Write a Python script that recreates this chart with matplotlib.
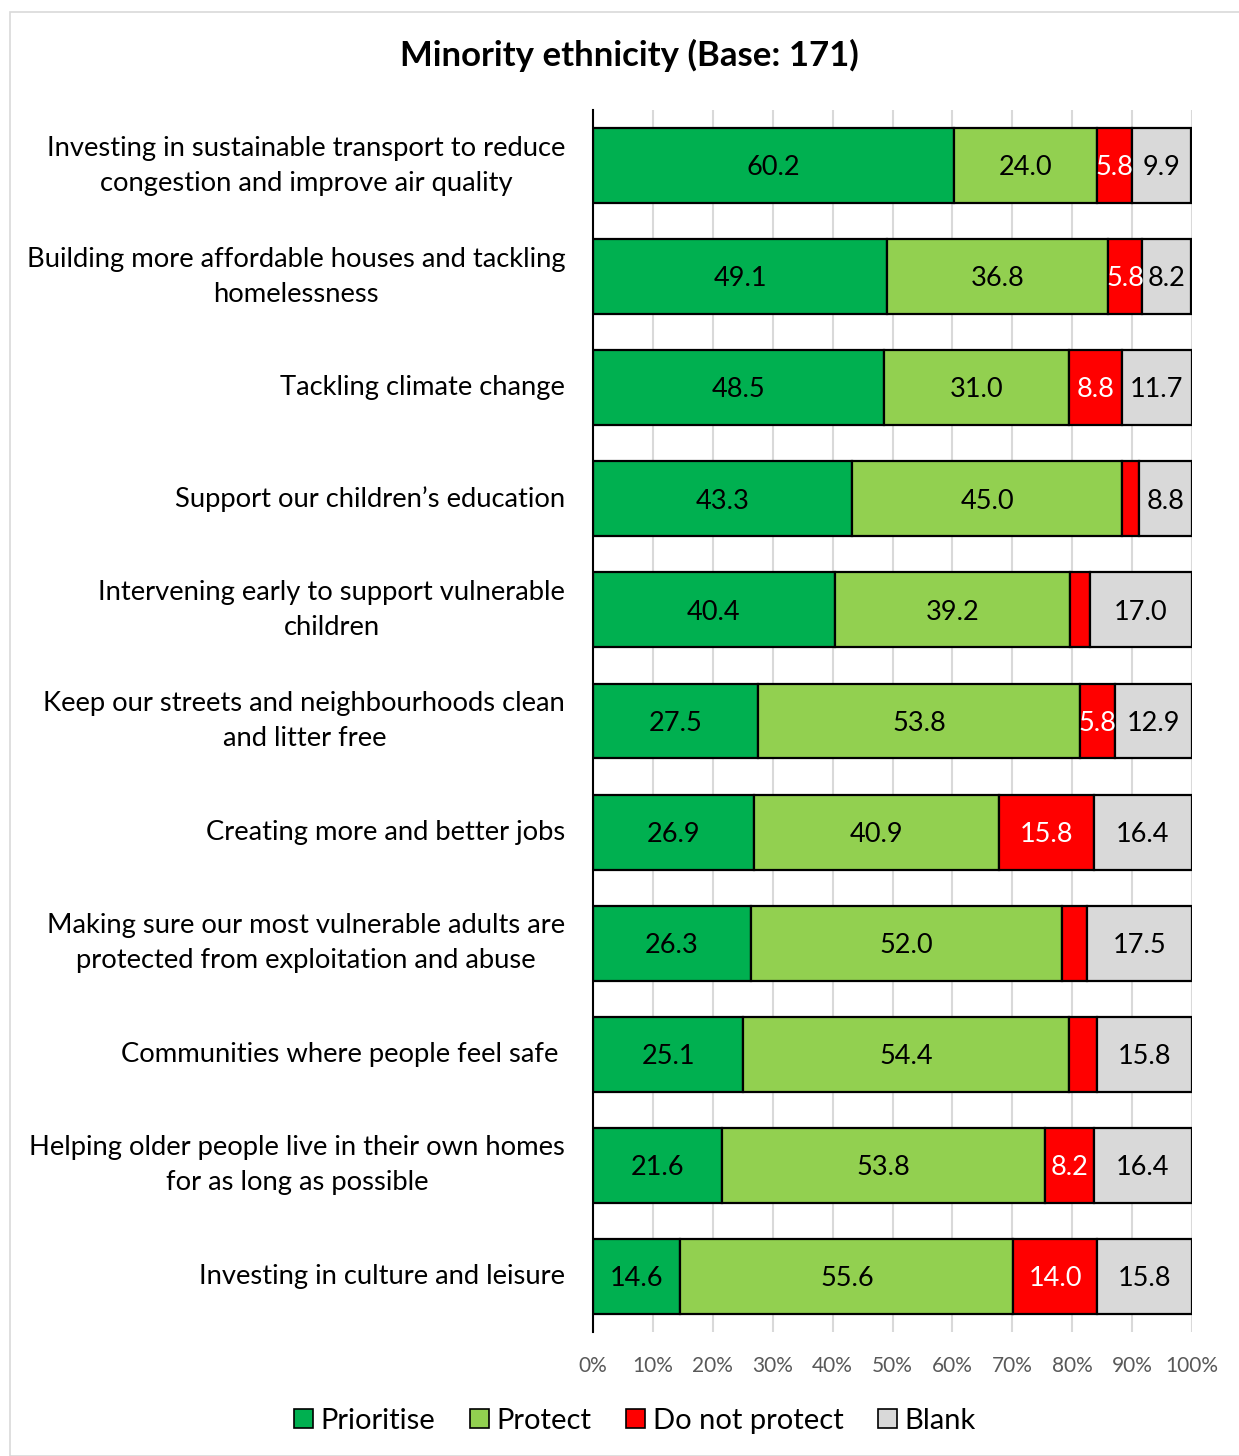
import matplotlib.pyplot as plt
from matplotlib.patches import Rectangle, Patch
import numpy as np

plt.rcParams['font.family'] = ['Lato', 'DejaVu Sans']

categories = [
    'Investing in sustainable transport to reduce\ncongestion and improve air quality',
    'Building more affordable houses and tackling\nhomelessness',
    'Tackling climate change',
    'Support our children\u2019s education',
    'Intervening early to support vulnerable\nchildren',
    'Keep our streets and neighbourhoods clean\nand litter free',
    'Creating more and better jobs',
    'Making sure our most vulnerable adults are\nprotected from exploitation and abuse',
    'Communities where people feel safe ',
    'Helping older people live in their own homes\nfor as long as possible',
    'Investing in culture and leisure',
]
prioritise = [60.2, 49.1, 48.5, 43.3, 40.4, 27.5, 26.9, 26.3, 25.1, 21.6, 14.6]
protect = [24.0, 36.8, 31.0, 45.0, 39.2, 53.8, 40.9, 52.0, 54.4, 53.8, 55.6]
do_not_protect = [5.8, 5.8, 8.8, 2.9, 3.4, 5.8, 15.8, 4.2, 4.7, 8.2, 14.0]
blank = [9.9, 8.2, 11.7, 8.8, 17.0, 12.9, 16.4, 17.5, 15.8, 16.4, 15.8]

series = [
    ('Prioritise', prioritise, '#00B050', 'black'),
    ('Protect', protect, '#92D050', 'black'),
    ('Do not protect', do_not_protect, '#FF0000', 'white'),
    ('Blank', blank, '#D9D9D9', 'black'),
]

fig = plt.figure(figsize=(12.39, 14.56), dpi=100)
fig.patches.append(Rectangle((10 / 1239, 0), 1.2, 1 - 12 / 1456, transform=fig.transFigure,
                             fill=False, edgecolor='#D9D9D9', lw=1.2))

ax = fig.add_axes([593 / 1239, 1 - 1332 / 1456, 599 / 1239, 1222 / 1456])
y = np.arange(len(categories))
left = np.zeros(len(categories))
for name, vals, color, tcolor in series:
    vals = np.array(vals)
    ax.barh(y, vals, left=left, height=0.675, color=color, edgecolor='black', lw=1.6,
            label=name, zorder=3)
    for yi, l, v in zip(y, left, vals):
        if v >= 5:
            ax.text(l + v / 2, yi + 0.02, f'{v:.1f}', ha='center', va='center', fontsize=19.5,
                    color=tcolor, zorder=4)
    left += vals

ax.set_xlim(0, 100)
ax.set_ylim(len(categories) - 0.5, -0.5)
ax.set_xticks(np.arange(0, 101, 10))
ax.set_xticklabels([f'{t}%' for t in range(0, 101, 10)], color='#595959', fontsize=15)
ax.tick_params(axis='x', length=0, pad=17)
ax.tick_params(axis='y', length=0, pad=20)
ax.set_yticks(y)
ax.set_yticklabels(categories, fontsize=19.7, multialignment='center', linespacing=1.5, va='center')
ax.grid(axis='x', color='#D9D9D9', lw=1.5, zorder=0)
for s in ['top', 'right', 'bottom']:
    ax.spines[s].set_visible(False)
ax.spines['left'].set_color('black')
ax.spines['left'].set_linewidth(1.5)
ax.spines['left'].set_zorder(5)

fig.text(629 / 1239, 1 - 55 / 1456, 'Minority ethnicity (Base: 171)', ha='center', va='center',
         fontsize=25, fontweight='bold')

handles = [Patch(facecolor=c, edgecolor='black', lw=1.2) for _, _, c, _ in series]
fig.legend(handles, [n for n, _, _, _ in series], loc='center', bbox_to_anchor=(635 / 1239, 1 - 1421 / 1456),
           ncol=4, frameon=False, fontsize=21, handlelength=0.65, handleheight=0.65,
           handletextpad=0.25, columnspacing=1.2)

fig.savefig('out.png', dpi=100)
